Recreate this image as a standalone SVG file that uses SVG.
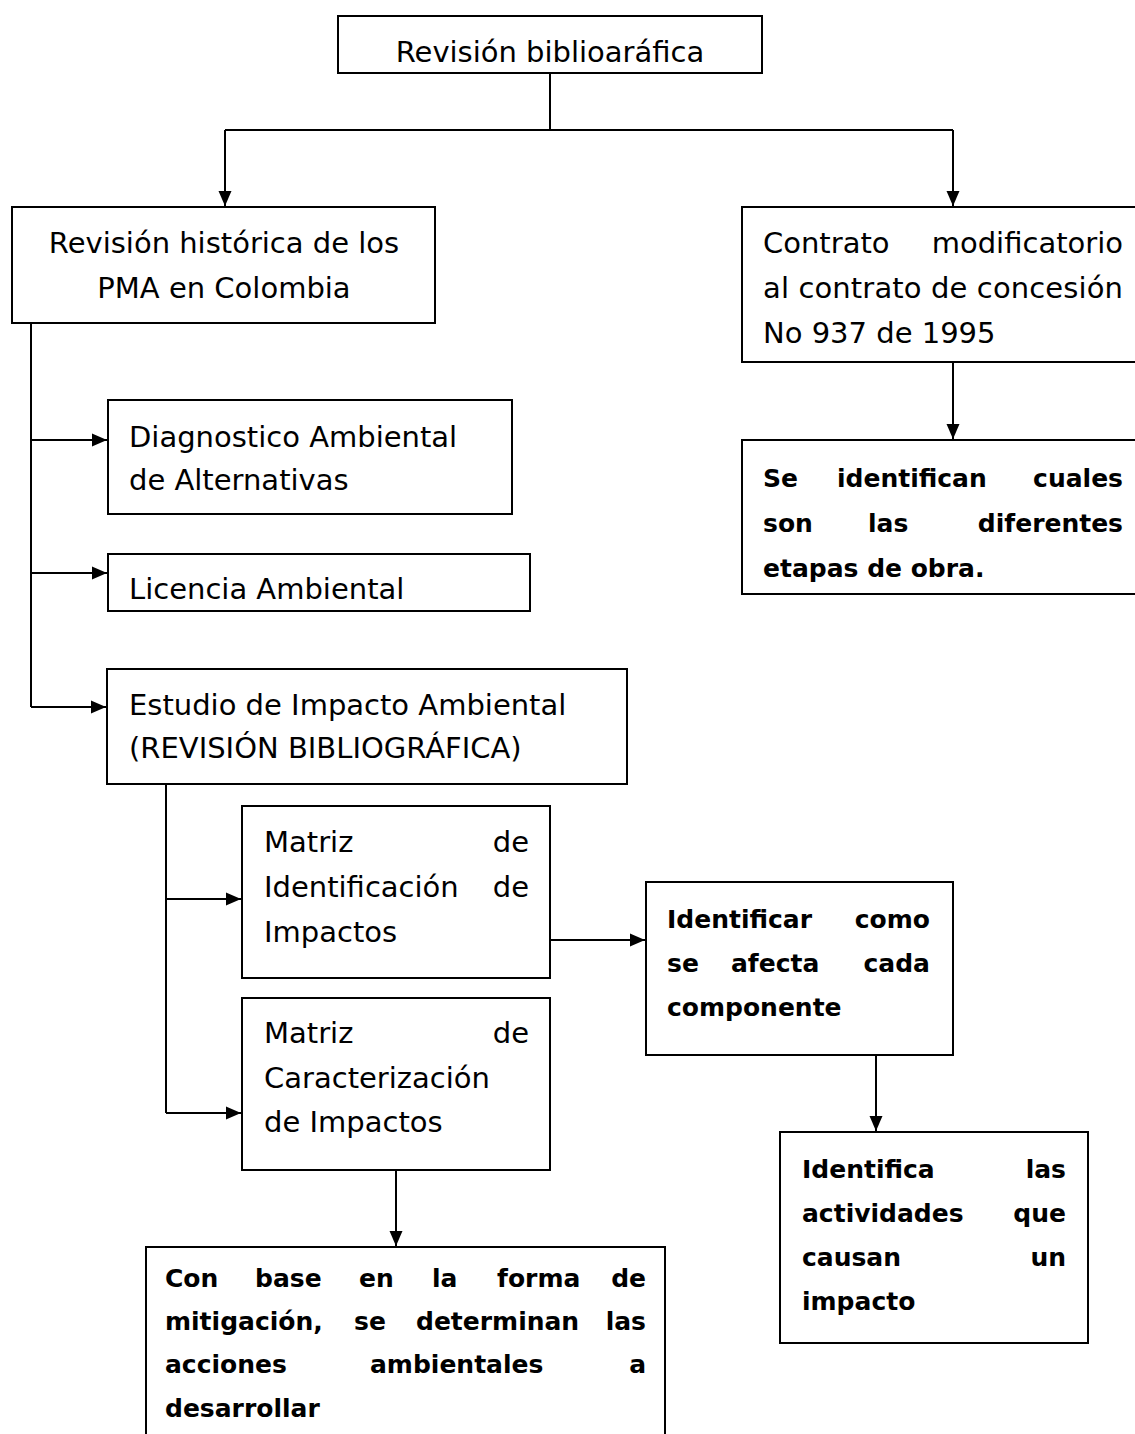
<svg xmlns="http://www.w3.org/2000/svg" width="1135" height="1434" viewBox="0 0 1135 1434">
<style>
.box{fill:#fff;stroke:#000;stroke-width:2}
.ln{fill:none;stroke:#000;stroke-width:2}
.t{font-family:"DejaVu Sans",sans-serif;font-size:29px;fill:#000}
.b{font-family:"DejaVu Sans",sans-serif;font-size:25px;font-weight:bold;fill:#000}
.e{text-anchor:end}
.m{text-anchor:middle}
</style>
<defs>
<marker id="ah" markerUnits="userSpaceOnUse" markerWidth="16" markerHeight="14" refX="15" refY="7" orient="auto">
<path d="M0,0.5 L15,7 L0,13.5 Z" fill="#000"/>
</marker>
</defs>
<rect width="1135" height="1434" fill="#fff"/>
<g id="connectors">
<path class="ln" d="M550,73 V130 M225,130 H953"/>
<path class="ln" d="M225,130 V206" marker-end="url(#ah)"/>
<path class="ln" d="M953,130 V206" marker-end="url(#ah)"/>
<path class="ln" d="M31,323 V707"/>
<path class="ln" d="M31,440 H107" marker-end="url(#ah)"/>
<path class="ln" d="M31,573 H107" marker-end="url(#ah)"/>
<path class="ln" d="M31,707 H106" marker-end="url(#ah)"/>
<path class="ln" d="M953,362 V439" marker-end="url(#ah)"/>
<path class="ln" d="M166,784 V1113"/>
<path class="ln" d="M166,899 H241" marker-end="url(#ah)"/>
<path class="ln" d="M166,1113 H241" marker-end="url(#ah)"/>
<path class="ln" d="M550,940 H645" marker-end="url(#ah)"/>
<path class="ln" d="M876,1055 V1131" marker-end="url(#ah)"/>
<path class="ln" d="M396,1170 V1246" marker-end="url(#ah)"/>
</g>
<g id="n-revision">
<rect class="box" x="338" y="16" width="424" height="57"/>
<text class="t m" x="550" y="62">Revisión biblioaráfica</text>
</g>
<g id="n-historica">
<rect class="box" x="12" y="207" width="423" height="116"/>
<text class="t m" x="224" y="253">Revisión histórica de los</text>
<text class="t m" x="224" y="298">PMA en Colombia</text>
</g>
<g id="n-contrato">
<rect class="box" x="742" y="207" width="400" height="155"/>
<text class="t" x="763" y="253">Contrato</text>
<text class="t e" x="1123" y="253">modificatorio</text>
<text class="t" x="763" y="298" textLength="360" lengthAdjust="spacing">al contrato de concesión</text>
<text class="t" x="763" y="343">No 937 de 1995</text>
</g>
<g id="n-etapas">
<rect class="box" x="742" y="440" width="400" height="154"/>
<text class="b" x="763" y="487">Se</text>
<text class="b" x="837" y="487">identifican</text>
<text class="b e" x="1123" y="487">cuales</text>
<text class="b" x="763" y="532">son</text>
<text class="b" x="868" y="532">las</text>
<text class="b e" x="1123" y="532">diferentes</text>
<text class="b" x="763" y="577">etapas de obra.</text>
</g>
<g id="n-diagnostico">
<rect class="box" x="108" y="400" width="404" height="114"/>
<text class="t" x="129" y="447">Diagnostico Ambiental</text>
<text class="t" x="129" y="490">de Alternativas</text>
</g>
<g id="n-licencia">
<rect class="box" x="108" y="554" width="422" height="57"/>
<text class="t" x="129" y="599">Licencia Ambiental</text>
</g>
<g id="n-estudio">
<rect class="box" x="107" y="669" width="520" height="115"/>
<text class="t" x="129" y="715">Estudio de Impacto Ambiental</text>
<text class="t" x="129" y="758">(REVISIÓN BIBLIOGRÁFICA)</text>
</g>
<g id="n-matriz-ident">
<rect class="box" x="242" y="806" width="308" height="172"/>
<text class="t" x="264" y="852">Matriz</text>
<text class="t e" x="529" y="852">de</text>
<text class="t" x="264" y="897">Identificación</text>
<text class="t e" x="529" y="897">de</text>
<text class="t" x="264" y="942">Impactos</text>
</g>
<g id="n-matriz-caract">
<rect class="box" x="242" y="998" width="308" height="172"/>
<text class="t" x="264" y="1043">Matriz</text>
<text class="t e" x="529" y="1043">de</text>
<text class="t" x="264" y="1088">Caracterización</text>
<text class="t" x="264" y="1132">de Impactos</text>
</g>
<g id="n-identificar">
<rect class="box" x="646" y="882" width="307" height="173"/>
<text class="b" x="667" y="928">Identificar</text>
<text class="b e" x="930" y="928">como</text>
<text class="b" x="667" y="972">se</text>
<text class="b" x="731" y="972">afecta</text>
<text class="b e" x="930" y="972">cada</text>
<text class="b" x="667" y="1016">componente</text>
</g>
<g id="n-identifica">
<rect class="box" x="780" y="1132" width="308" height="211"/>
<text class="b" x="802" y="1178">Identifica</text>
<text class="b e" x="1066" y="1178">las</text>
<text class="b" x="802" y="1222">actividades</text>
<text class="b e" x="1066" y="1222">que</text>
<text class="b" x="802" y="1266">causan</text>
<text class="b e" x="1066" y="1266">un</text>
<text class="b" x="802" y="1310">impacto</text>
</g>
<g id="n-conbase">
<rect class="box" x="146" y="1247" width="519" height="200"/>
<text class="b" x="165" y="1287">Con</text>
<text class="b" x="255" y="1287">base</text>
<text class="b" x="359" y="1287">en</text>
<text class="b" x="432" y="1287">la</text>
<text class="b" x="497" y="1287">forma</text>
<text class="b e" x="646" y="1287">de</text>
<text class="b" x="165" y="1330">mitigación,</text>
<text class="b" x="354" y="1330">se</text>
<text class="b" x="416" y="1330">determinan</text>
<text class="b e" x="646" y="1330">las</text>
<text class="b" x="165" y="1373">acciones</text>
<text class="b" x="370" y="1373">ambientales</text>
<text class="b e" x="646" y="1373">a</text>
<text class="b" x="165" y="1417">desarrollar</text>
</g>
</svg>
